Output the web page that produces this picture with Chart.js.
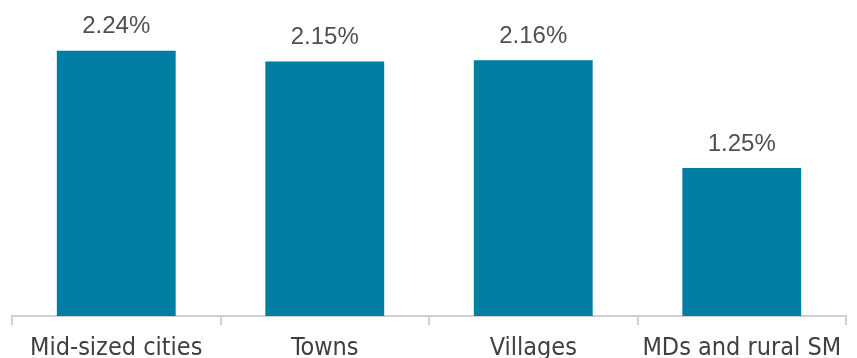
<!DOCTYPE html>
<html>
<head>
<meta charset="utf-8">
<script src="https://cdn.jsdelivr.net/npm/chart.js@4/dist/chart.umd.min.js"></script>
<style>
  html, body { margin: 0; padding: 0; background: #fff; }
  #wrap { width: 857px; height: 358px; }
</style>
</head>
<body>
<div id="wrap"><canvas id="chart"></canvas></div>
<script>
const categories = ["Mid-sized cities", "Towns", "Villages", "MDs and rural SM"];
const values = [2.24, 2.15, 2.16, 1.25];

// etiquetas encima de las barras
const valueLabels = {
    id: "valueLabels",
    afterDatasetsDraw(chart) {
        const ctx = chart.ctx;
        const meta = chart.getDatasetMeta(0);
        ctx.save();
        ctx.font = "24px 'Liberation Sans', Arial, sans-serif";
        ctx.fillStyle = "#505050";
        ctx.textAlign = "center";
        ctx.textBaseline = "middle";
        meta.data.forEach((bar, i) => {
            ctx.fillText(values[i].toFixed(2) + "%", bar.x, bar.y - 24);
        });
        ctx.restore();
    }
};

new Chart(document.getElementById("chart"), {
    type: "bar",
    data: {
        labels: categories,
        datasets: [{
            data: values,
            backgroundColor: "#007DA3",
            categoryPercentage: 0.57,
            barPercentage: 1,
        }],
    },
    options: {
        responsive: true,
        maintainAspectRatio: false,
        animation: false,
        layout: { padding: { top: 20, left: 12, right: 11, bottom: 0 } },
        plugins: { legend: { display: false }, tooltip: { enabled: false } },
        scales: {
            x: {
                grid: {
                    offset: true,
                    drawOnChartArea: false,
                    drawTicks: true,
                    tickLength: 9,
                    color: "#d0d0d0",
                    lineWidth: 2,
                },
                border: { color: "#d0d0d0", width: 2 },
                ticks: {
                    color: "#404040",
                    font: { family: "'Liberation Sans Narrow', 'DejaVu Sans Condensed', sans-serif", size: 25 },
                    padding: 8,
                    maxRotation: 0,
                    autoSkip: false,
                },
                afterFit(scale) { scale.height = 42; },
            },
            y: {
                display: false,
                min: 0,
                max: 2.5,
            },
        },
    },
    plugins: [valueLabels],
});
</script>
</body>
</html>
